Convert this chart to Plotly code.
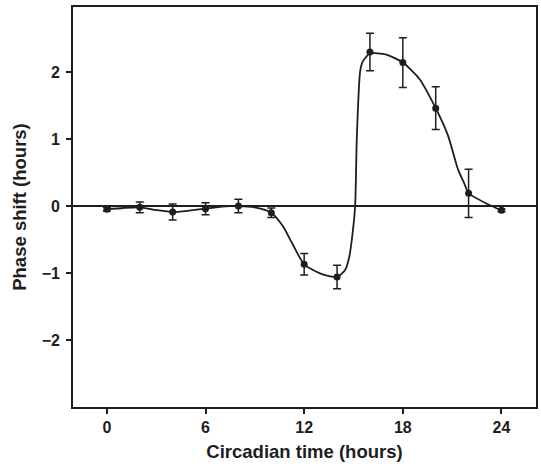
import plotly.graph_objects as go

# Measured data (circadian time, phase shift, SEM)
ct = [0, 2, 4, 6, 8, 10, 12, 14, 16, 18, 20, 22, 24]
shift = [-0.05, -0.02, -0.09, -0.04, 0.0, -0.10, -0.87, -1.06, 2.30, 2.14, 1.46, 0.19, -0.065]
sem = [0.03, 0.08, 0.12, 0.09, 0.10, 0.07, 0.16, 0.175, 0.28, 0.37, 0.32, 0.36, 0.02]

# Fitted curve
curve_ct = [0, 1, 2, 3, 4, 5, 6, 7, 8, 9, 10, 10.7, 11.3, 12, 13, 14, 14.5, 14.75,
            14.9, 15.1, 15.2, 15.4, 15.55, 15.75, 16, 17, 18, 19, 20, 20.75, 21.35,
            21.75, 22, 23.15, 24]
curve_shift = [-0.05, -0.03, -0.02, -0.06, -0.09, -0.07, -0.04, -0.01, 0.0, -0.02, -0.10,
               -0.30, -0.57, -0.87, -1.01, -1.06, -0.95, -0.75, -0.5, 0.0, 1.0, 2.0, 2.15,
               2.22, 2.28, 2.26, 2.14, 1.90, 1.46, 1.05, 0.55, 0.33, 0.19, 0.03, -0.065]

x_ticks = [0, 6, 12, 18, 24]
y_ticks = [-2, -1, 0, 1, 2]

ink = "#1e1e1e"
tick_font = dict(family="Liberation Sans", size=16, color=ink, weight="bold")
title_font = dict(family="Liberation Sans", size=18.5, color=ink, weight="bold")

fig = go.Figure()
fig.add_trace(go.Scatter(
    x=curve_ct, y=curve_shift, mode="lines",
    line=dict(color=ink, width=1.8, shape="spline", smoothing=0.6),
    hoverinfo="skip", showlegend=False,
))
fig.add_trace(go.Scatter(
    x=ct, y=shift, mode="markers",
    marker=dict(color=ink, size=7),
    error_y=dict(type="data", array=sem, color=ink, thickness=1.5, width=4),
    showlegend=False,
))

fig.update_layout(
    width=541, height=467,
    margin=dict(l=73, r=3, t=7, b=60),
    paper_bgcolor="white", plot_bgcolor="white",
    font=tick_font,
)
fig.update_xaxes(
    range=[-2.06, 26.1], tickvals=x_ticks, ticks="outside", ticklen=5,
    tickcolor=ink, tickwidth=1.5, showgrid=False, zeroline=False,
    showline=True, linecolor=ink, linewidth=1.8, mirror=True,
    ticklabelstandoff=0,
    title=dict(text="Circadian time (hours)", standoff=10, font=title_font),
    tickfont=tick_font,
)
fig.update_yaxes(
    range=[-3, 2.97], tickvals=y_ticks, ticks="outside", ticklen=5,
    tickcolor=ink, tickwidth=1.5, showgrid=False,
    zeroline=True, zerolinecolor=ink, zerolinewidth=1.5,
    showline=True, linecolor=ink, linewidth=1.8, mirror=True,
    ticklabelstandoff=3,
    title=dict(text="Phase shift (hours)", standoff=10, font=title_font),
    tickfont=tick_font,
)

fig.write_html("out.html", config={"displayModeBar": False},
               post_script="document.body.style.margin='0';")
